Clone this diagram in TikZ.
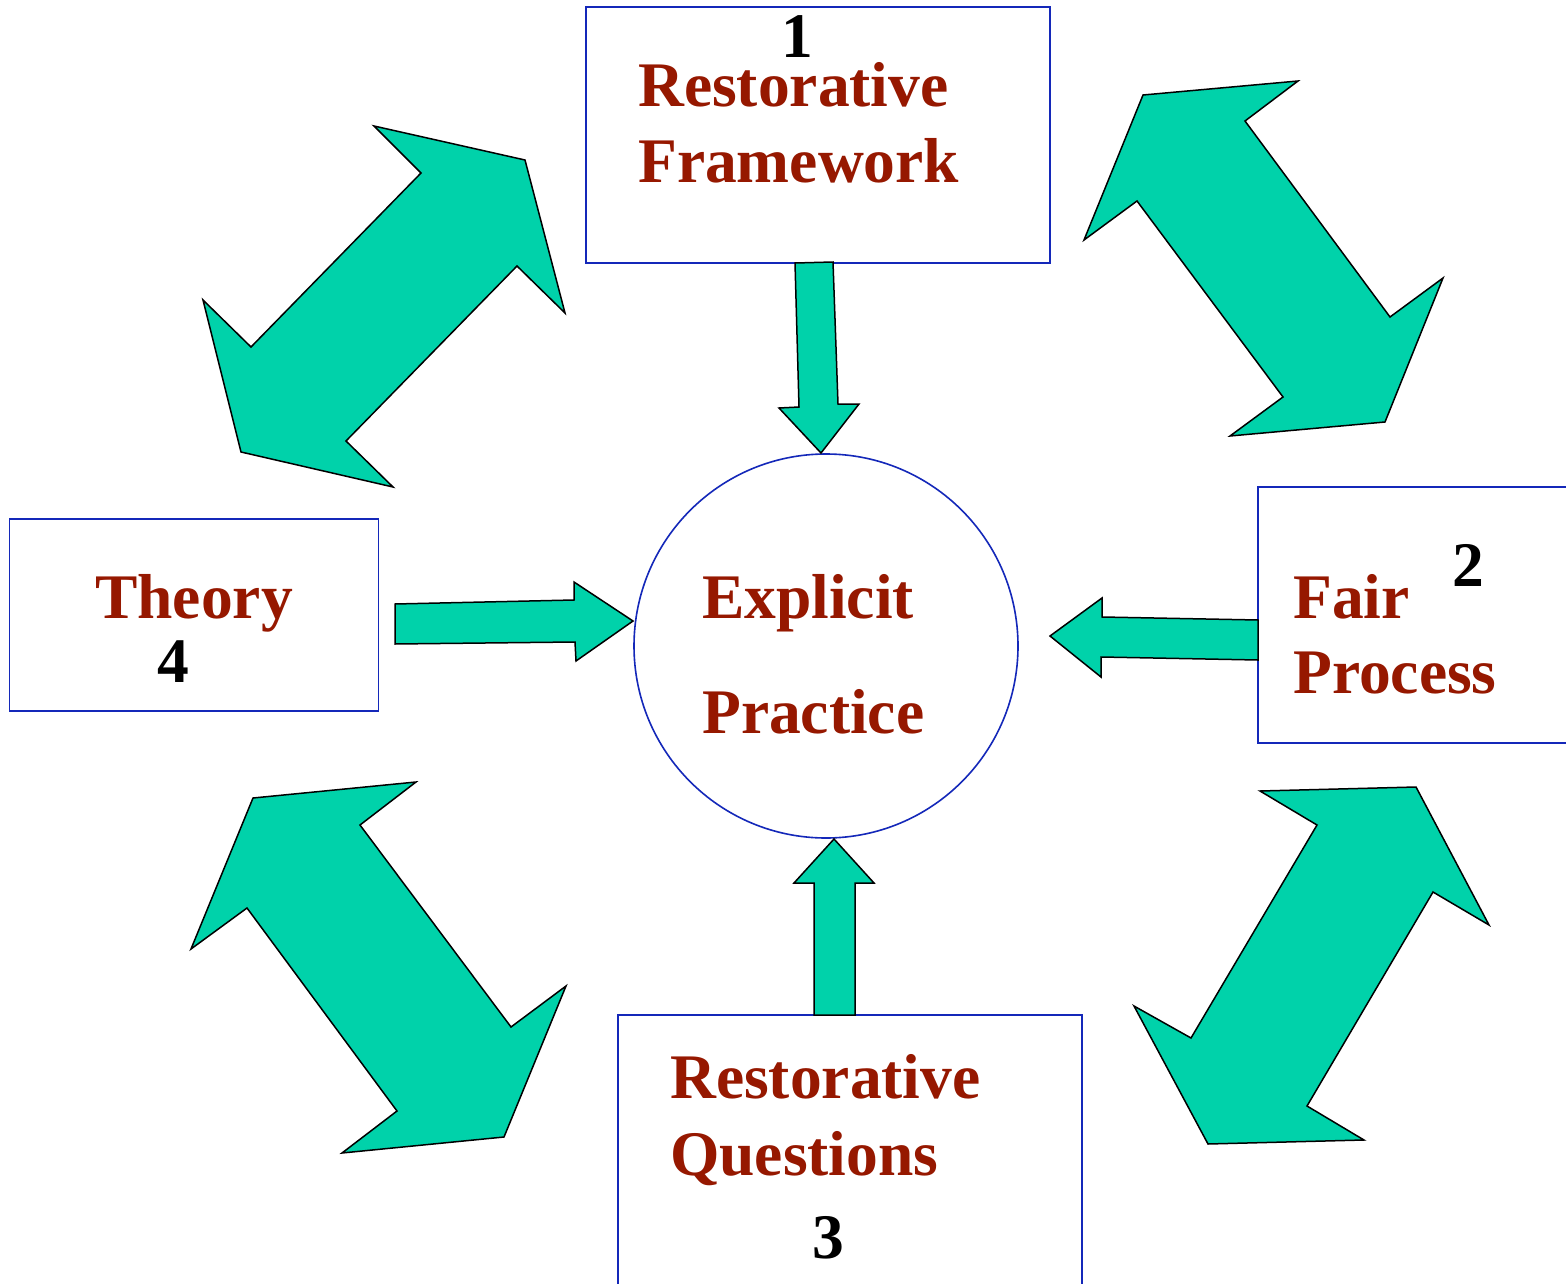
\documentclass[tikz,border=0pt]{standalone}
\usepackage{fontspec}
\setmainfont{Liberation Serif}
\definecolor{tealfill}{RGB}{0,210,170}
\definecolor{boxblue}{RGB}{20,40,185}
\definecolor{txtred}{RGB}{150,24,0}
\begin{document}
\begin{tikzpicture}[x=1pt,y=-1pt,
  box/.style={draw=boxblue,line width=1.6pt,rectangle,inner sep=0pt,outer sep=0pt},
  lbl/.style={anchor=base west,inner sep=0pt,text=txtred,font=\fontsize{63.5}{70}\selectfont\bfseries},
  num/.style={anchor=base,inner sep=0pt,text=black,font=\fontsize{63.5}{70}\selectfont\bfseries},
  arr/.style={fill=tealfill,draw=black,line width=1.5pt,line join=miter}]
\useasboundingbox (0,0) rectangle (1566,1284);
\fill[white] (0,0) rectangle (1566,1284);
% boxes
\node[box,minimum width=464pt,minimum height=256pt] (fw) at (818,135) {};
\node[box,minimum width=369pt,minimum height=192pt] (th) at (194,615) {};
\node[box,minimum width=322pt,minimum height=256pt] (fp) at (1419,615) {};
\node[box,minimum width=464pt,minimum height=290pt] (rq) at (850,1160) {};
\node[draw=boxblue,line width=1.6pt,circle,minimum size=384pt,inner sep=0pt,outer sep=0pt] (ep) at (826,646) {};
% straight arrows
\draw[arr] (795,263) -- (833,262) -- (838,404) -- (859,404) -- (821,453) -- (779,408) -- (799,407) -- cycle;
\draw[arr] (395,604) -- (574,600) -- (574,582) -- (633,621) -- (576,661) -- (575,642) -- (395,644) -- cycle;
\draw[arr] (1258,620) -- (1102,617) -- (1102,598) -- (1050,636) -- (1101,677) -- (1101,657) -- (1258,660) -- cycle;
\draw[arr] (814,1015) -- (814,883) -- (794,883) -- (834,839) -- (874,883) -- (855,883) -- (855,1015) -- cycle;
% double arrows
\draw[arr] (421,173) -- (374,126) -- (525,160) -- (565,313) -- (517,266) -- (346,441) -- (393,487) -- (241,452) -- (203,300) -- (251,347) -- cycle;
\draw[arr] (1143,95) -- (1298,81) -- (1245,121) -- (1390,317) -- (1443,278) -- (1385,422) -- (1230,436) -- (1283,397) -- (1137,201) -- (1084,240) -- cycle;
\draw[arr] (253,798) -- (416,782) -- (360,825) -- (511,1027) -- (566,986) -- (504,1137) -- (342,1153) -- (397,1111) -- (247,908) -- (191,949) -- cycle;
\draw[arr] (1260,791) -- (1416,787) -- (1489,925) -- (1433,892) -- (1307,1106) -- (1364,1140) -- (1208,1144) -- (1134,1006) -- (1191,1038) -- (1317,825) -- cycle;
% texts
\node[num] (n1) at (797,58) {1};
\node[lbl] (t1a) at (638,107) {Restorative};
\node[lbl] (t1b) at (638,183) {Framework};
\node[lbl] (t4) at (95,618) {Theory};
\node[num] (n4) at (173,682) {4};
\node[lbl] (t2a) at (1293,618) {Fair};
\node[num] (n2) at (1468,586) {2};
\node[lbl] (t2b) at (1293,693) {Process};
\node[lbl] (t3a) at (670,1098) {Restorative};
\node[lbl] (t3b) at (670,1175) {Questions};
\node[num] (n3) at (828,1258) {3};
\node[lbl] (tea) at (702,618) {Explicit};
\node[lbl] (teb) at (702,733) {Practice};
\end{tikzpicture}
\end{document}
